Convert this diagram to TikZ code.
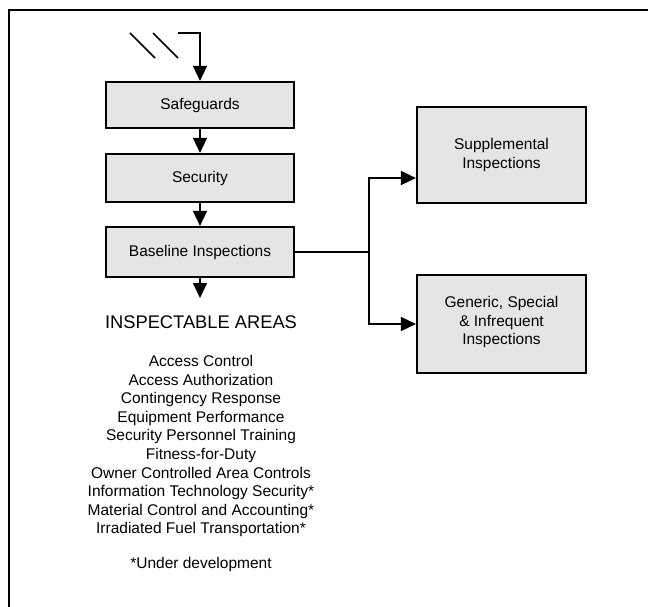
\documentclass[tikz,border=0pt]{standalone}
\usepackage{fontspec}
\setmainfont{Liberation Sans}
\usetikzlibrary{arrows.meta}

\begin{document}
\begin{tikzpicture}[x=1pt,y=-1pt,
    stagebox/.style={draw,line width=2.2pt,fill=black!10,align=center,
      font=\fontsize{15.5}{18.5}\selectfont,inner sep=2pt},
    flow/.style={line width=1.7pt,-{Triangle[length=15pt,width=14pt]}},
    listitem/.style={anchor=base,font=\fontsize{15.5}{18.5}\selectfont}]
    \useasboundingbox (0,0) rectangle (648,607);

    % 边框
    \draw[line width=2pt] (648,10) -- (9,10) -- (9,607);

    % 输入
    \draw[line width=1.7pt] (130,33) -- (155,58);
    \draw[line width=1.7pt] (153,33) -- (178,58);
    \coordinate (feed) at (178,33);

    % 主流程
    \node[stagebox,minimum width=188pt,minimum height=46pt] (safe) at (200,105) {Safeguards};
    \node[stagebox,minimum width=188pt,minimum height=48pt] (sec) at (200,178) {Security};
    \node[stagebox,minimum width=188pt,minimum height=50pt] (base) at (200,252) {Baseline Inspections};
    \draw[flow] (feed) -| (safe.north);
    \draw[flow] (safe) -- (sec);
    \draw[flow] (sec) -- (base);

    % 右侧分支
    \node[stagebox,minimum width=169pt,minimum height=96pt] (supp) at (501.5,155) {Supplemental\\Inspections};
    \node[stagebox,minimum width=169pt,minimum height=98pt] (gen) at (501.5,324) {Generic, Special\\\& Infrequent\\Inspections\\[-12pt]};
    \coordinate (split) at (369,252);
    \draw[line width=1.7pt] (base.east) -- (split);
    \draw[flow] (split) |- ([yshift=-23pt]supp.west);
    \draw[flow] (split) |- (gen.west);

    % 检查领域
    \coordinate (areas) at (200,298);
    \draw[flow] (base.south) -- (areas);
    \node[anchor=base,font=\fontsize{18.3}{22}\selectfont] (title) at (201,328.5) {INSPECTABLE AREAS};
    \foreach \t [count=\i] in {Access Control,Access Authorization,Contingency Response,
      Equipment Performance,Security Personnel Training,Fitness-for-Duty,
      Owner Controlled Area Controls,Information Technology Security*,
      Material Control and Accounting*,Irradiated Fuel Transportation*}
    \node[listitem] (item\i) at (201,{366.5+18.6*(\i-1)}) {\t};
    \node[listitem] (note) at (201,568.5) {*Under development};
  \end{tikzpicture}
\end{document}
